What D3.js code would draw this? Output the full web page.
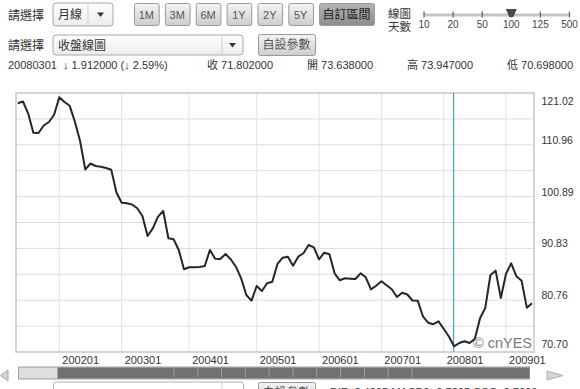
<!doctype html>
<html>
  <head>
    <meta charset="utf-8" />
    <title>月線 收盤線圖</title>
    <style>
      body { margin: 0; background: #fff; }
      svg { display: block; font-family: "Liberation Sans", Arial, "Noto Sans CJK TC", sans-serif; }
      .ui { fill: #333; font-size: 12px; }
      .info { fill: #333; font-size: 11px; }
      .grid line { stroke: #dcdcdc; stroke-width: 1; }
      .axis text { fill: #333; font-size: 10.5px; }
      .btn rect { stroke: #9a9a9a; }
      .btn text { fill: #555; font-size: 11px; text-anchor: middle; }
    </style>
  </head>
  <body>
    <div id="chart"></div>
    <script src="https://cdn.jsdelivr.net/npm/d3@7"></script>
    <script>
      // monthly closes, 100 points (線圖天數 = 100), starting 200105
      var closes = [
        119.02, 119.37, 117.08, 113.31, 113.25, 114.71, 115.39, 116.80,
        120.18, 119.27, 118.53, 115.44, 111.69, 106.16, 107.32, 106.84, 106.70, 106.45, 106.12, 101.69,
        99.71, 99.59, 99.36, 98.62, 97.12, 93.24, 94.73, 96.99, 98.09, 92.79, 92.60, 90.52, 86.77,
        87.16, 87.16, 87.21, 87.41, 90.52, 88.83, 88.77, 89.74, 88.71, 87.27, 85.02, 81.77, 80.67,
        83.52, 82.55, 84.05, 84.36, 87.80, 89.02, 89.22, 87.47, 89.22, 89.88, 91.49, 91.04,
        88.71, 89.99, 89.68, 85.99, 84.63, 85.02, 84.94, 84.88, 85.99, 85.21, 82.88, 83.58,
        84.44, 83.66, 82.88, 81.39, 82.22, 81.87, 80.71, 80.67, 77.64, 76.39, 76.10, 76.66,
        75.21, 73.714, 71.802, 72.45, 72.80, 72.45, 73.26, 77.25, 79.25, 85.66, 86.50, 81.19,
        85.91, 87.93, 85.41, 84.53, 79.31, 80.16
      ];
      var tickIdx = [8, 20, 33, 46, 58, 70, 82, 94];
      var tickLabels = ["200201", "200301", "200401", "200501", "200601", "200701", "200801", "200901"];
      var yMin = 70.70, yMax = 121.02;
      var yLabels = ["70.70", "80.76", "90.83", "100.89", "110.96", "121.02"];
      var cursorIdx = 84;

      var periodButtons = ["1M", "3M", "6M", "1Y", "2Y", "5Y"];
      var sliderLabels = ["10", "20", "50", "100", "125", "500"];
      var sliderSel = "100";

      var W = 580, H = 389;
      var plot = {left: 16, top: 93, right: 534, bottom: 352};

      var svg = d3.select("#chart").append("svg")
                  .attr("width", W).attr("height", H);

      var defs = svg.append("defs");
      function grad(id, c1, c2) {
        var g = defs.append("linearGradient").attr("id", id)
                    .attr("x1", 0).attr("y1", 0).attr("x2", 0).attr("y2", 1);
        g.append("stop").attr("offset", "0%").attr("stop-color", c1);
        g.append("stop").attr("offset", "100%").attr("stop-color", c2);
      }
      grad("gBtn", "#f4f4f4", "#cdcdcd");
      grad("gSel", "#b4b4b4", "#8c8c8c");
      grad("gSelect", "#ffffff", "#ececec");

      // ---- top controls ----
      function selectBox(x, y, w, h, label, sepX) {
        var g = svg.append("g");
        g.append("rect").attr("x", x).attr("y", y).attr("width", w).attr("height", h)
         .attr("rx", 3).attr("fill", "url(#gSelect)").attr("stroke", "#a8a8a8");
        g.append("line").attr("x1", sepX).attr("x2", sepX).attr("y1", y + 1).attr("y2", y + h - 1)
         .attr("stroke", "#cfcfcf");
        g.append("text").attr("class", "ui").attr("x", x + 5).attr("y", y + h / 2 + 4.5)
         .style("font-size", "12px").text(label);
        var ax = (sepX + x + w) / 2, ay = y + h / 2;
        g.append("path").attr("d", "M" + (ax - 3.5) + "," + (ay - 2) + "L" + (ax + 3.5) + "," + (ay - 2) +
                              "L" + ax + "," + (ay + 2.5) + "Z").attr("fill", "#333");
      }
      function button(x, y, w, h, label, sel) {
        var g = svg.append("g").attr("class", "btn");
        g.append("rect").attr("x", x + 0.5).attr("y", y + 0.5).attr("width", w).attr("height", h)
         .attr("rx", 2).attr("fill", sel ? "url(#gSel)" : "url(#gBtn)")
         .attr("stroke", sel ? "#6f6f6f" : "#a5a5a5");
        g.append("text").attr("x", x + w / 2).attr("y", y + h / 2 + 4.5)
         .style("fill", sel ? "#222" : "#555")
         .style("font-size", label.length > 3 ? "12px" : "11px").text(label);
      }

      svg.append("text").attr("class", "ui").attr("x", 8).attr("y", 20).text("請選擇");
      selectBox(53, 3, 60, 23, "月線", 88);

      var bx = d3.scaleBand().domain(periodButtons).range([134, 313]).paddingInner(0.2);
      periodButtons.forEach(function(b) { button(bx(b), 3, bx.bandwidth(), 22, b, false); });
      button(319, 3, 55, 22, "自訂區間", true);

      svg.append("text").attr("class", "ui").attr("x", 388).attr("y", 17.5)
         .style("font-size", "11.5px").text("線圖");
      svg.append("text").attr("class", "ui").attr("x", 388).attr("y", 30.5)
         .style("font-size", "11.5px").text("天數");
      var sx = d3.scalePoint().domain(sliderLabels).range([424, 569.5]);
      svg.append("rect").attr("x", 424).attr("y", 13.5).attr("width", 145.5).attr("height", 3)
         .attr("fill", "#c4c4c4");
      sliderLabels.forEach(function(s) {
        svg.append("line").attr("x1", sx(s)).attr("x2", sx(s)).attr("y1", 11.5).attr("y2", 17.5)
           .attr("stroke", "#666").attr("stroke-width", 1.3);
        svg.append("text").attr("x", sx(s)).attr("y", 27.5).attr("text-anchor", "middle")
           .style("font-size", "10px").style("fill", "#444").text(s);
      });
      var hx = sx(sliderSel);
      svg.append("path").attr("d", "M" + (hx - 5.5) + ",9 L" + (hx + 5.5) + ",9 L" + (hx + 2) + ",17 L" + (hx - 2) + ",17 Z")
         .attr("fill", "#4a4a4a");

      svg.append("text").attr("class", "ui").attr("x", 8).attr("y", 50).text("請選擇");
      selectBox(53, 35, 190, 20, "收盤線圖", 222);
      button(258, 34, 57, 21, "自設參數", false);

      // info row
      var info = [
        [8, "20080301  \u2193 1.912000 (\u2193 2.59%)"],
        [207, "收 71.802000"],
        [307, "開 73.638000"],
        [407, "高 73.947000"],
        [507, "低 70.698000"]
      ];
      info.forEach(function(d) {
        svg.append("text").attr("class", "info").attr("x", d[0]).attr("y", 69)
           .attr("xml:space", "preserve").style("white-space", "pre").text(d[1]);
      });

      // ---- chart ----
      var x = d3.scaleLinear().domain([0, closes.length - 1]).range([17.75, 532]);
      var y = d3.scaleLinear().domain([yMin, yMax]).range([plot.bottom, plot.top]);

      svg.append("rect").attr("x", plot.left).attr("y", plot.top)
         .attr("width", plot.right - plot.left).attr("height", plot.bottom - plot.top)
         .attr("fill", "#fff");

      var grid = svg.append("g").attr("class", "grid");
      grid.selectAll(".h").data(d3.range(1, 10)).enter().append("line")
          .attr("x1", plot.left).attr("x2", plot.right)
          .attr("y1", function(i) { return y(yMin + i * (yMax - yMin) / 10); })
          .attr("y2", function(i) { return y(yMin + i * (yMax - yMin) / 10); });
      grid.selectAll(".v").data(tickIdx).enter().append("line")
          .attr("x1", function(d) { return x(d); }).attr("x2", function(d) { return x(d); })
          .attr("y1", plot.top).attr("y2", plot.bottom)
          .style("stroke", "#e2e2e2");

      svg.append("rect").attr("x", plot.left).attr("y", plot.top)
         .attr("width", plot.right - plot.left).attr("height", plot.bottom - plot.top)
         .attr("fill", "none").attr("stroke", "#c6c6c6").attr("stroke-width", 1.5);

      // cursor line
      svg.append("line").attr("x1", x(cursorIdx) - 0.5).attr("x2", x(cursorIdx) - 0.5)
         .attr("y1", plot.top).attr("y2", plot.bottom)
         .attr("stroke", "#4f9bcf").attr("stroke-width", 1.2);

      svg.append("text").attr("x", 532).attr("y", 347.5).attr("text-anchor", "end")
         .style("font-size", "14.5px").style("fill", "#7a7a7a").text("\u00a9 cnYES");

      svg.append("path").datum(closes)
         .attr("fill", "none").attr("stroke", "#262626").attr("stroke-width", 2)
         .attr("stroke-linejoin", "round")
         .attr("d", d3.line().x(function(d, i) { return x(i); }).y(function(d) { return y(d); }));

      // axes
      var ay = svg.append("g").attr("class", "axis");
      ay.selectAll("text").data(yLabels).enter().append("text")
        .attr("x", 541.5)
        .attr("y", function(d, i) {
          var p = y(+d);
          if (i === 0) return p - 4;
          if (i === yLabels.length - 1) return p + 11.5;
          return p - 1;
        })
        .text(function(d) { return d; });

      var ax = svg.append("g").attr("class", "axis");
      ax.selectAll("text").data(tickIdx).enter().append("text")
        .attr("x", function(d) { return x(d) + 3; }).attr("y", 364)
        .style("font-size", "11px")
        .text(function(d, i) { return tickLabels[i]; });

      // ---- scrollbar ----
      svg.append("path").attr("d", "M0.5,375.5 L8,370 L8,381 Z").attr("fill", "#d4d4d4").attr("stroke", "#a8a8a8");
      svg.append("path").attr("d", "M563,375.5 L547,371 L547,380 Z").attr("fill", "#d4d4d4").attr("stroke", "#b0b0b0");
      svg.append("rect").attr("x", 18.5).attr("y", 367).attr("width", 511).attr("height", 12)
         .attr("fill", "#dedede").attr("stroke", "#9e9e9e");
      svg.append("rect").attr("x", 57.5).attr("y", 367.5).attr("width", 472).attr("height", 11)
         .attr("fill", "#717171");
      d3.range(0, 11).forEach(function(k) {
        var gx = 174 + k * 23.8;
        svg.append("line").attr("x1", gx).attr("x2", gx).attr("y1", 368.5).attr("y2", 377)
           .attr("stroke", "#a0a0a0");
      });

      // bottom row (partly cut off, as in the page)
      svg.append("rect").attr("x", 53.5).attr("y", 382).attr("width", 190).attr("height", 20)
         .attr("rx", 3).attr("fill", "#fff").attr("stroke", "#b0b0b0");
      svg.append("line").attr("x1", 222).attr("x2", 222).attr("y1", 383).attr("y2", 400).attr("stroke", "#cfcfcf");
      button(258, 382, 57, 21, "自設參數", false);
      svg.append("text").attr("class", "info").attr("x", 330).attr("y", 395.5)
         .text("DIF -3.4265   MACD9 -2.7205   OSC -0.7060");
    </script>
  </body>
</html>
